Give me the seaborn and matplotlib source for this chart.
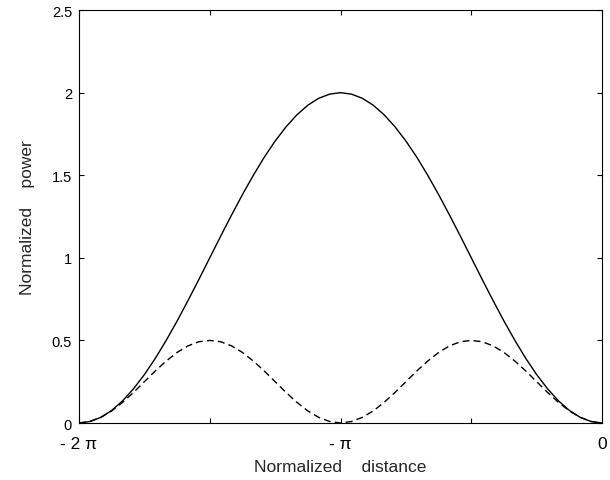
import numpy as np
import pandas as pd
import matplotlib
matplotlib.use("Agg")
import matplotlib.pyplot as plt
import seaborn as sns

# x positions in units of pi (step pi/24)
x_over_pi = [-2 + k / 24 for k in range(49)]

# solid curve
solid_power = [0.000, 0.009, 0.034, 0.076, 0.134, 0.207, 0.293, 0.391, 0.500,
               0.617, 0.741, 0.869, 1.000, 1.131, 1.259, 1.383, 1.500, 1.609,
               1.707, 1.793, 1.866, 1.924, 1.966, 1.991, 2.000,
               1.991, 1.966, 1.924, 1.866, 1.793, 1.707, 1.609, 1.500, 1.383,
               1.259, 1.131, 1.000, 0.869, 0.741, 0.617, 0.500, 0.391, 0.293,
               0.207, 0.134, 0.076, 0.034, 0.009, 0.000]

# dashed curve
dashed_power = [0.000, 0.009, 0.034, 0.073, 0.125, 0.185, 0.250, 0.315, 0.375,
                0.427, 0.467, 0.492, 0.500, 0.492, 0.467, 0.427, 0.375, 0.315,
                0.250, 0.185, 0.125, 0.073, 0.034, 0.009, 0.000,
                0.009, 0.034, 0.073, 0.125, 0.185, 0.250, 0.315, 0.375, 0.427,
                0.467, 0.492, 0.500, 0.492, 0.467, 0.427, 0.375, 0.315, 0.250,
                0.185, 0.125, 0.073, 0.034, 0.009, 0.000]

x_ticks_over_pi = [-2, -1.5, -1, -0.5, 0]
x_tick_labels = ["- 2 \u03c0", "", "- \u03c0", "", "0"]
y_ticks = [0, 0.5, 1, 1.5, 2, 2.5]
y_tick_labels = ["0", "0.5", "1", "1.5", "2", "2.5"]

sns.set_theme(style="white")
plt.rcParams['font.family'] = ['Liberation Sans', 'DejaVu Sans']

x = np.array(x_over_pi) * np.pi
df = pd.DataFrame({
    "x": np.concatenate([x, x]),
    "power": solid_power + dashed_power,
    "series": ["solid"] * len(x) + ["dashed"] * len(x),
})

fig = plt.figure(figsize=(6.1, 4.81), dpi=100)
ax = fig.add_axes([0.1295, 0.1185, 0.8575, 0.8585])

sns.lineplot(data=df, x="x", y="power", style="series",
             dashes={"solid": "", "dashed": (5, 3)},
             color="black", linewidth=1.0, legend=False, ax=ax, sort=False)

ax.set_xlim(-2 * np.pi, 0)
ax.set_ylim(0, 2.5)
ax.set_xticks(np.array(x_ticks_over_pi) * np.pi)
ax.set_xticklabels(x_tick_labels, fontsize=12.5)
ax.set_yticks(y_ticks)
ax.set_yticklabels(y_tick_labels, fontsize=10.5)
ax.tick_params(direction="in", length=3.5, width=0.8, top=True, right=True,
               bottom=True, left=True, colors="black")
ax.tick_params(axis="x", pad=9)
ax.tick_params(axis="y", pad=5)
for s in ax.spines.values():
    s.set_color("black")
    s.set_linewidth(0.8)
    s.set_visible(True)

ax.set_xlabel("Normalized    distance", fontsize=12.5, labelpad=6)
ax.set_ylabel("Normalized    power", fontsize=12.5, labelpad=12)

fig.savefig("out.png", dpi=100, facecolor="white")
